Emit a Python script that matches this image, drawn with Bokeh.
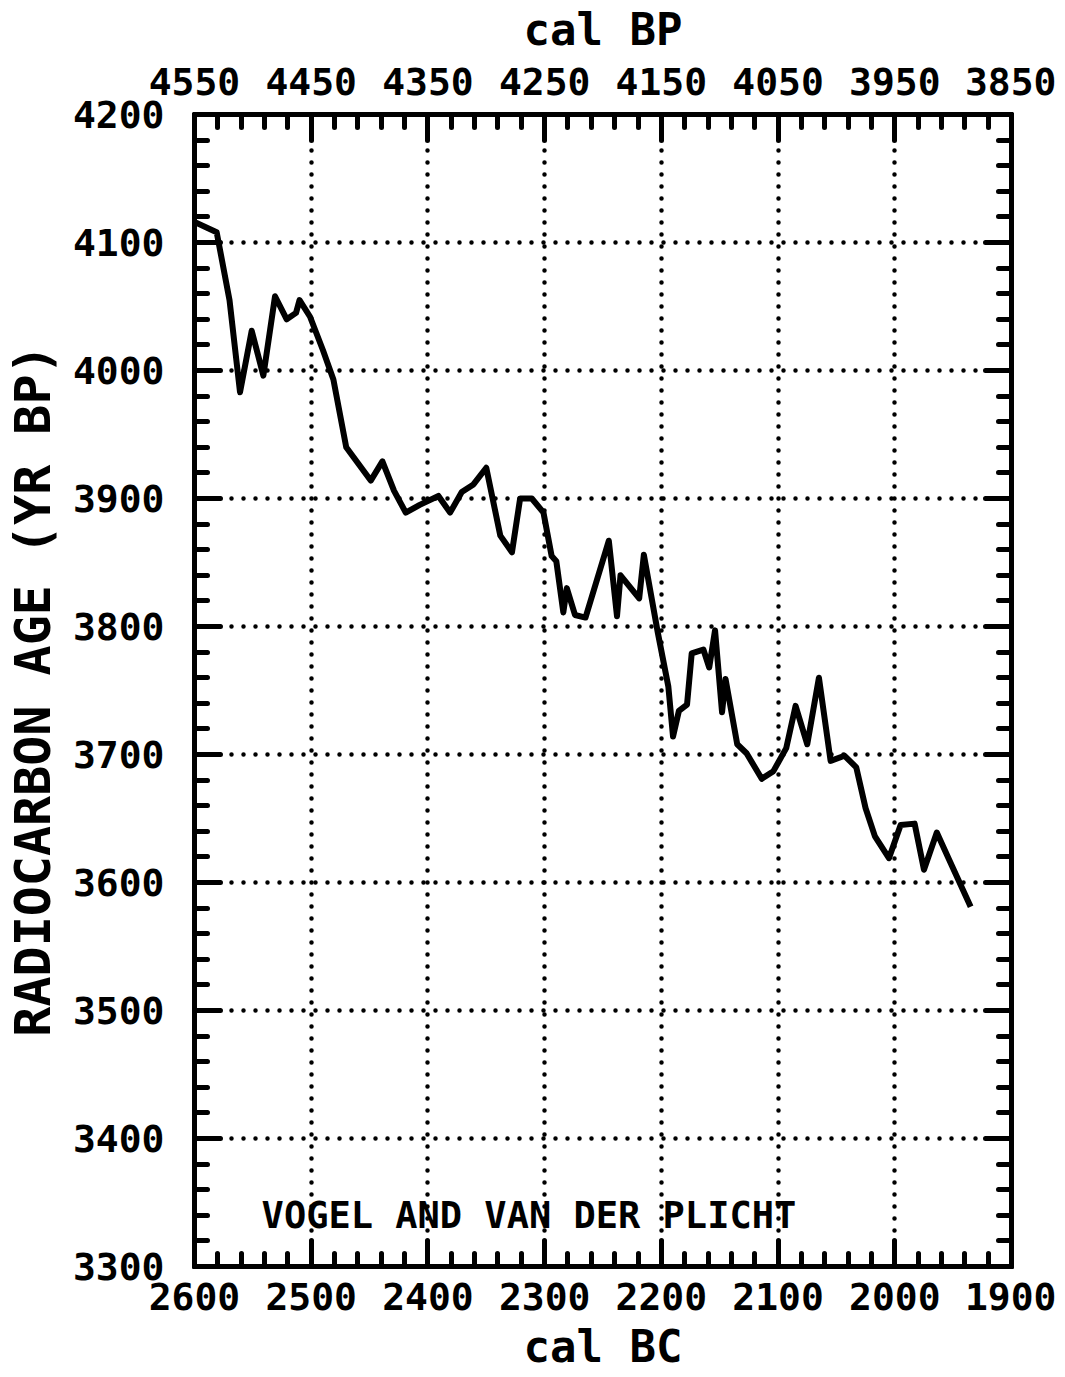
from bokeh.plotting import figure
from bokeh.models import (Range1d, LinearAxis, FixedTicker, Label)
from bokeh.embed import file_html
from bokeh.resources import INLINE

# ---- data ----
cal_bc = [2600, 2581, 2570, 2561, 2551, 2541, 2531, 2521, 2513, 2510, 2501, 2490, 2481,
          2470, 2449, 2439, 2429, 2419, 2407, 2391, 2381, 2371, 2361, 2350, 2338, 2328,
          2321, 2311, 2301, 2294, 2290, 2284, 2281, 2274, 2265, 2245, 2238, 2235, 2219,
          2215, 2203, 2194, 2190, 2185, 2178, 2174, 2164, 2159, 2154, 2148, 2145, 2135,
          2127, 2114, 2104, 2093, 2085, 2075, 2065, 2055, 2043, 2033, 2025, 2017, 2005,
          1995, 1983, 1975, 1964, 1954, 1935]
c14_age = [4116, 4108, 4055, 3983, 4031, 3996, 4058, 4040, 4045, 4055, 4042, 4016, 3993,
           3940, 3914, 3929, 3906, 3889, 3895, 3902, 3889, 3905, 3911, 3924, 3871, 3858,
           3900, 3900, 3889, 3855, 3851, 3811, 3830, 3809, 3807, 3867, 3808, 3840, 3822,
           3856, 3795, 3753, 3714, 3734, 3739, 3779, 3782, 3768, 3797, 3733, 3759, 3708,
           3701, 3681, 3687, 3705, 3738, 3708, 3760, 3695, 3699, 3690, 3658, 3636, 3619,
           3645, 3646, 3610, 3639, 3619, 3581]

bc_ticks = [2600, 2500, 2400, 2300, 2200, 2100, 2000, 1900]
bc_minor = list(range(1900, 2601, 20))
bp_ticks = [4550, 4450, 4350, 4250, 4150, 4050, 3950, 3850]
bp_minor = list(range(3850, 4551, 20))
age_ticks = [3300, 3400, 3500, 3600, 3700, 3800, 3900, 4000, 4100, 4200]
age_minor = list(range(3300, 4201, 20))

x_title = "cal BC"
top_title = "cal BP"
y_title = "RADIOCARBON AGE (YR BP)"
note_text = "VOGEL AND VAN DER PLICHT"

FONT = "DejaVu Sans Mono"

p = figure(frame_width=817, frame_height=1152,
           min_border_left=187, min_border_right=45,
           min_border_top=107, min_border_bottom=102,
           x_range=Range1d(2600, 1900), y_range=Range1d(3300, 4200),
           output_backend="svg", toolbar_location=None,
           x_axis_location=None, y_axis_location=None)
p.extra_x_ranges = {"bp": Range1d(4550, 3850)}
p.background_fill_color = "white"
p.border_fill_color = "white"
p.outline_line_color = "black"
p.outline_line_width = 5


def style_axis(ax, show_labels=True):
    ax.axis_line_width = 5
    ax.axis_line_color = "black"
    ax.major_tick_in = 26
    ax.major_tick_out = 0
    ax.minor_tick_in = 13
    ax.minor_tick_out = 0
    ax.major_tick_line_width = 5
    ax.minor_tick_line_width = 5
    ax.major_tick_line_cap = "round"
    ax.minor_tick_line_cap = "round"
    ax.major_tick_line_color = "black"
    ax.minor_tick_line_color = "black"
    ax.major_label_text_font = FONT
    ax.major_label_text_font_style = "bold"
    ax.major_label_text_font_size = "38px"
    ax.major_label_text_color = "black"
    ax.axis_label_text_font = FONT
    ax.axis_label_text_font_style = "bold"
    ax.axis_label_text_font_size = "44px"
    ax.axis_label_text_color = "black"
    if not show_labels:
        ax.major_label_text_font_size = "0px"


bottom = LinearAxis(ticker=FixedTicker(ticks=bc_ticks, minor_ticks=bc_minor),
                    axis_label=x_title)
style_axis(bottom)
bottom.major_label_standoff = 16
bottom.axis_label_standoff = 8
p.add_layout(bottom, "below")

top = LinearAxis(x_range_name="bp",
                 ticker=FixedTicker(ticks=bp_ticks, minor_ticks=bp_minor),
                 axis_label=top_title)
style_axis(top)
top.major_label_standoff = 20
top.axis_label_standoff = 10
p.add_layout(top, "above")

left = LinearAxis(ticker=FixedTicker(ticks=age_ticks, minor_ticks=age_minor),
                  axis_label=y_title)
style_axis(left)
left.major_label_standoff = 30
left.axis_label_standoff = 8
left.axis_label_text_font_size = "50px"
p.add_layout(left, "left")

right = LinearAxis(ticker=FixedTicker(ticks=age_ticks, minor_ticks=age_minor))
style_axis(right, show_labels=False)
right.major_label_overrides = {t: "" for t in age_ticks}
p.add_layout(right, "right")

# dotted grid at major ticks
p.xgrid.ticker = FixedTicker(ticks=bc_ticks)
p.ygrid.ticker = FixedTicker(ticks=age_ticks)
for g in (p.xgrid, p.ygrid):
    g.grid_line_color = "black"
    g.grid_line_width = 4.5
    g.grid_line_dash = "0 12"
    g.grid_line_cap = "round"

p.line(cal_bc, c14_age, line_color="black", line_width=6, line_join="round")

note = Label(x=2542.5, y=3340, text=note_text, text_font=FONT,
             text_font_style="bold", text_font_size="37px", text_color="black",
             text_baseline="alphabetic", text_align="left")
p.add_layout(note)

open("out.html", "w").write(file_html(p, INLINE))
